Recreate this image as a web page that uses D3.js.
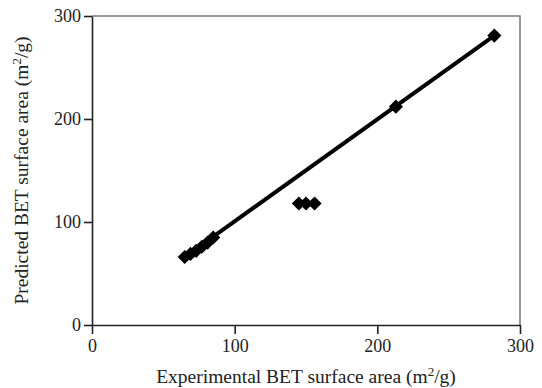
<!DOCTYPE html>
<html>
<head>
<meta charset="utf-8">
<script src="https://cdn.jsdelivr.net/npm/d3@7"></script>
<style>
  body { margin: 0; background: #fff; }
  text { font-family: "Liberation Serif", "DejaVu Serif", serif; fill: #222; }
</style>
</head>
<body>
<svg id="chart" width="542" height="388"></svg>
<script>
// measured vs predicted BET surface area (m2/g)
const experimental = [65, 69, 73, 77, 81, 85, 145, 150, 156, 213, 282];
const predicted    = [66, 69, 72, 76, 80, 85, 118, 118, 118, 212, 281];
// fitted line end points
const fitX = [65, 282];
const fitY = [66, 281];
const xTicks = [0, 100, 200, 300];
const yTicks = [0, 100, 200, 300];

const width = 542, height = 388;
const margin = { top: 16, right: 22, bottom: 63, left: 92 };

const svg = d3.select('#chart');
const g = svg.append('g').attr('transform', `translate(${margin.left},${margin.top})`);
const w = width - margin.left - margin.right;
const h = height - margin.top - margin.bottom;

const x = d3.scaleLinear().domain([0, 300]).range([0, w]);
const y = d3.scaleLinear().domain([0, 300]).range([h, 0]);

// top and right frame
g.append('path')
  .attr('d', `M0,0H${w}V${h}`)
  .attr('fill', 'none')
  .attr('stroke', '#777')
  .attr('stroke-width', 1.5);

const xAxis = g.append('g')
  .attr('transform', `translate(0,${h})`)
  .call(d3.axisBottom(x).tickValues(xTicks).tickSize(9).tickPadding(5).tickSizeOuter(0));
const yAxis = g.append('g')
  .call(d3.axisLeft(y).tickValues(yTicks).tickSize(8).tickPadding(3).tickSizeOuter(0));

[xAxis, yAxis].forEach(a => {
  a.select('.domain').attr('stroke', '#222').attr('stroke-width', 1.6);
  a.selectAll('.tick line').attr('stroke', '#222').attr('stroke-width', 1.6);
  a.selectAll('.tick text').style('font-size', '18px').attr('fill', '#222');
});

// fitted line
const line = d3.line().x(d => x(d[0])).y(d => y(d[1]));
g.append('path')
  .datum(d3.zip(fitX, fitY))
  .attr('d', line)
  .attr('fill', 'none')
  .attr('stroke', '#000')
  .attr('stroke-width', 4);

// diamond markers
const diamond = d3.symbol().type(d3.symbolSquare).size(100);
g.selectAll('.pt')
  .data(d3.zip(experimental, predicted))
  .enter().append('path')
  .attr('class', 'pt')
  .attr('d', diamond)
  .attr('transform', d => `translate(${x(d[0])},${y(d[1])}) rotate(45)`)
  .attr('fill', '#000');

// axis titles
svg.append('text')
  .attr('x', margin.left + w / 2)
  .attr('y', 383)
  .attr('text-anchor', 'middle')
  .style('font-size', '19.5px')
  .html('Experimental BET surface area (m<tspan dy="-7" font-size="13px">2</tspan><tspan dy="7">/g)</tspan>');

svg.append('text')
  .attr('transform', `translate(28,${margin.top + h / 2}) rotate(-90)`)
  .attr('text-anchor', 'middle')
  .style('font-size', '19.5px')
  .html('Predicted BET surface area (m<tspan dy="-7" font-size="13px">2</tspan><tspan dy="7">/g)</tspan>');
</script>
</body>
</html>
